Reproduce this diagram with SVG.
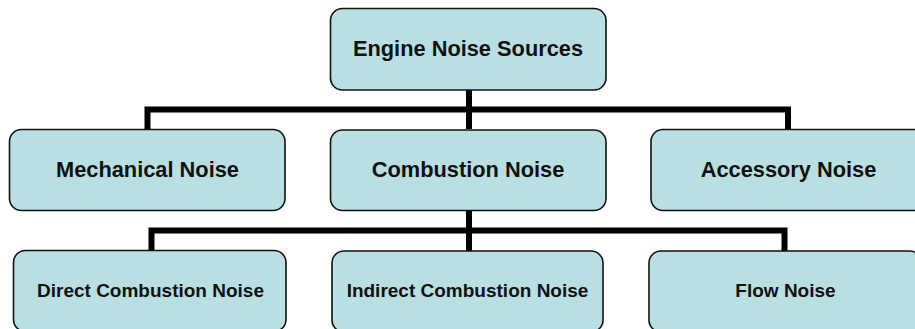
<svg xmlns="http://www.w3.org/2000/svg" width="915" height="329" viewBox="0 0 915 329">
<style>
.box{fill:#BADFE2;stroke:#111;stroke-width:1.6}
.t{font-family:"Liberation Sans",Arial,sans-serif;font-weight:bold;fill:#111;text-anchor:middle}
.l{font-size:21.8px}
.s{font-size:19px}
.c{fill:none;stroke:#000;stroke-width:6;stroke-linejoin:miter;stroke-linecap:butt}
</style>
<rect width="915" height="329" fill="#fff"/>
<g id="connectors">
<path class="c" d="M469 90V129"/>
<path class="c" d="M147.5 130V109.5H788V130"/>
<path class="c" d="M469 210V251"/>
<path class="c" d="M151.5 251V230.5H784.5V251"/>
</g>
<g id="engine">
<rect class="box" x="330.5" y="8.5" width="275.5" height="81.5" rx="12"/>
<text class="t l" x="468" y="56">Engine Noise Sources</text>
</g>
<g id="mechanical">
<rect class="box" x="9.5" y="129.5" width="275.5" height="81" rx="12"/>
<text class="t l" x="147.5" y="177">Mechanical Noise</text>
</g>
<g id="combustion">
<rect class="box" x="330.5" y="130" width="275.5" height="80.5" rx="12"/>
<text class="t l" x="468" y="177">Combustion Noise</text>
</g>
<g id="accessory">
<rect class="box" x="651" y="129.5" width="275.5" height="81" rx="12"/>
<text class="t l" x="788.5" y="177">Accessory Noise</text>
</g>
<g id="direct">
<rect class="box" x="13.5" y="250.5" width="272.5" height="81" rx="12"/>
<text class="t s" x="150.5" y="297">Direct Combustion Noise</text>
</g>
<g id="indirect">
<rect class="box" x="332" y="251" width="271" height="81" rx="12"/>
<text class="t s" x="467.5" y="297">Indirect Combustion Noise</text>
</g>
<g id="flow">
<rect class="box" x="649" y="251" width="272.5" height="81" rx="12"/>
<text class="t s" x="785.5" y="297">Flow Noise</text>
</g>
</svg>
